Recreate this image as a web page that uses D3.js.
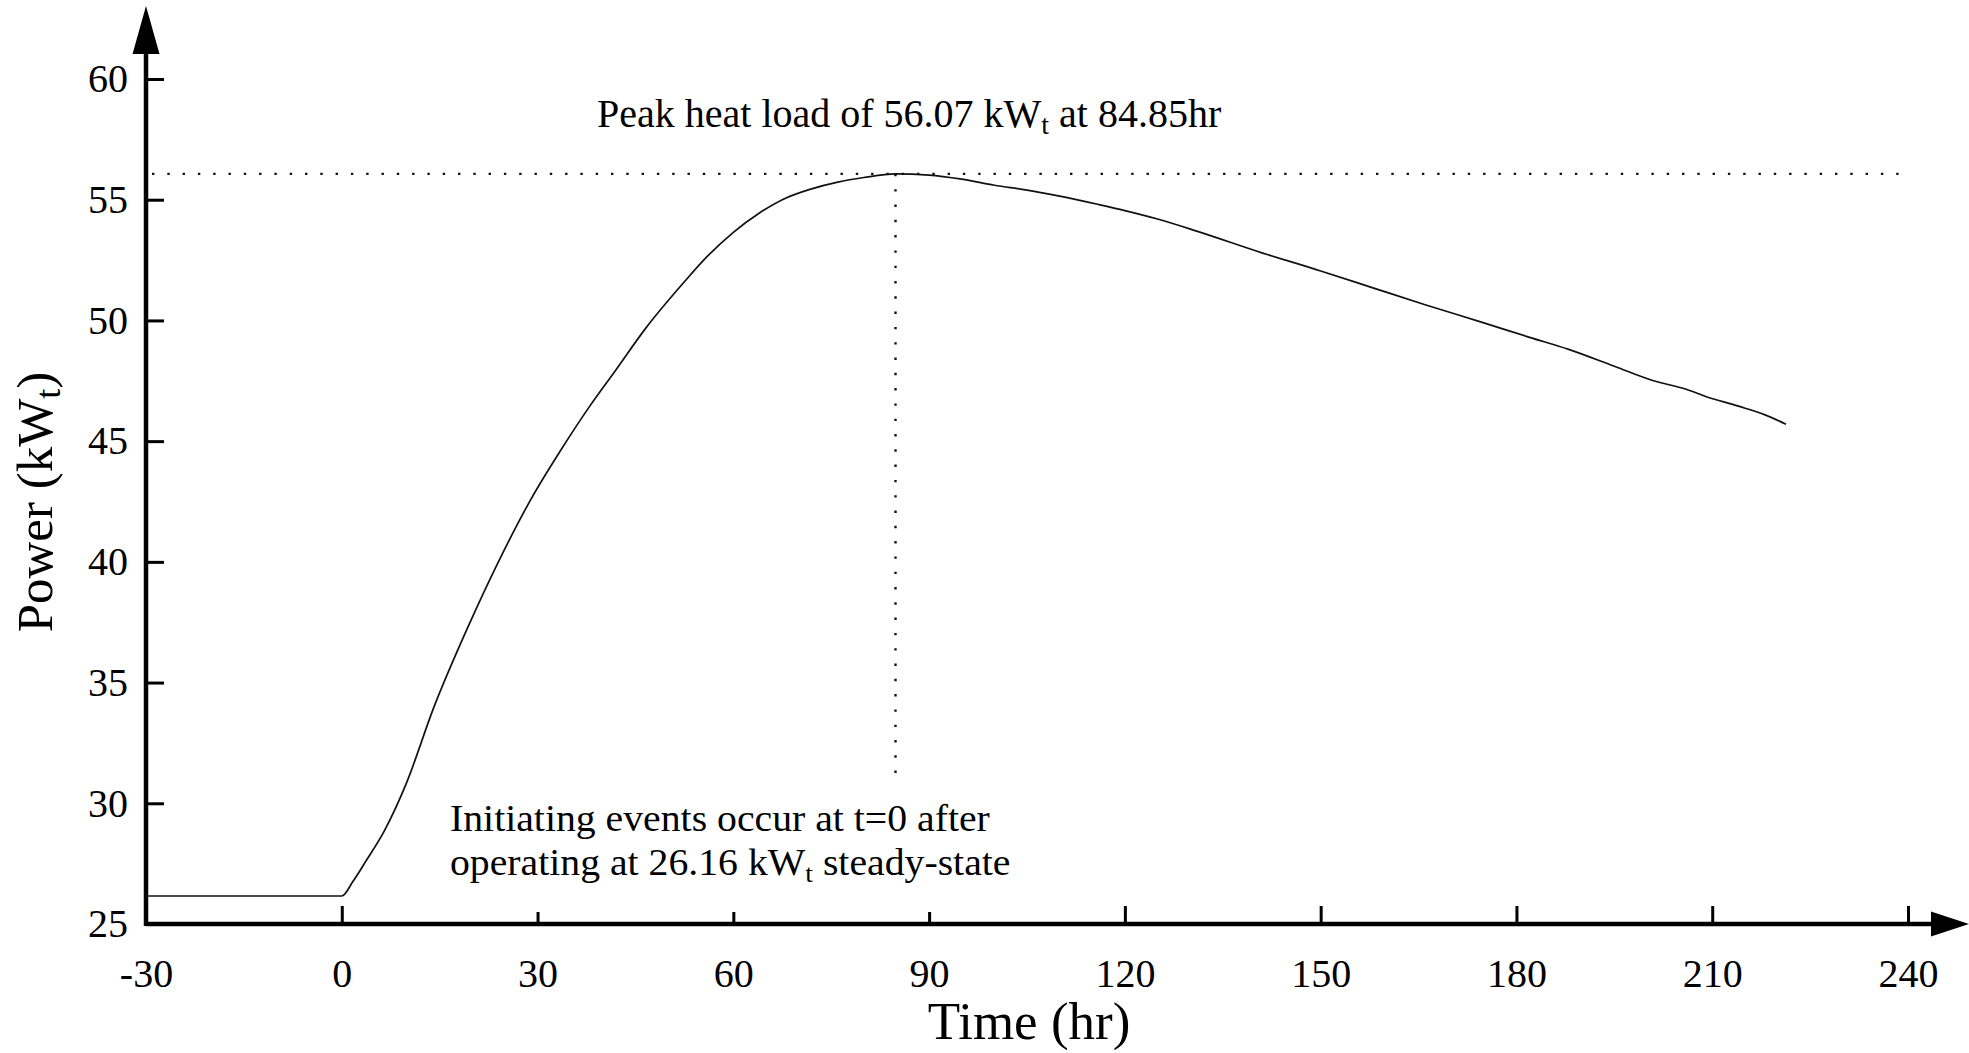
<!DOCTYPE html>
<html>
<head>
<meta charset="utf-8">
<script src="https://cdn.jsdelivr.net/npm/d3@7"></script>
<style>
  html, body { margin: 0; padding: 0; background: #fff; }
  svg { display: block; }
  text { font-family: "Liberation Serif", "Times New Roman", serif; fill: #000; }
</style>
</head>
<body>
<svg id="chart" width="1969" height="1053"></svg>
<script>
// Thermal power transient: steady state before t=0, rise to the peak, slow decay
const timeHr = [-30, 0, 1.7, 3.8, 6.5, 10, 14, 19.5, 24, 29, 33.5, 38, 42, 46.5, 52.5, 56, 60, 64, 67.5, 72, 76, 80, 84.85,
                90, 95, 100, 105, 110, 116, 120, 125, 131, 141, 150, 158, 166, 175, 182, 188, 195, 201, 206, 209, 214, 218, 221.3];
const powerKWt = [26.16, 26.16, 26.76, 27.65, 28.85, 30.9, 33.9, 37.4, 40.0, 42.6, 44.6, 46.45, 47.95, 49.65, 51.6, 52.65, 53.65, 54.45, 55.0, 55.45, 55.73, 55.92, 56.07,
                  56.02, 55.85, 55.6, 55.4, 55.15, 54.8, 54.55, 54.2, 53.7, 52.8, 52.05, 51.35, 50.65, 49.9, 49.3, 48.8, 48.1, 47.5, 47.15, 46.85, 46.45, 46.1, 45.7];

const xTicks = [-30, 0, 30, 60, 90, 120, 150, 180, 210, 240];
const yTicks = [25, 30, 35, 40, 45, 50, 55, 60];

const peakPower = 56.07;
const peakTime = 84.85;
const steadyPower = 26.16;

const svg = d3.select("#chart");

const x = d3.scaleLinear().domain([-30, 240]).range([146, 1908]);
const y = d3.scaleLinear().domain([25, 60]).range([924, 79]);

const data = timeHr.map((t, i) => ({ t, p: powerKWt[i] }));

// Reference lines through the peak
svg.append("line")
  .attr("x1", x(-30) + 6).attr("x2", x(239))
  .attr("y1", y(peakPower)).attr("y2", y(peakPower))
  .attr("stroke", "#111").attr("stroke-width", 2.4)
  .attr("stroke-dasharray", "2.4 12.9");
svg.append("line")
  .attr("x1", x(peakTime)).attr("x2", x(peakTime))
  .attr("y1", y(peakPower)).attr("y2", 776)
  .attr("stroke", "#111").attr("stroke-width", 2.4)
  .attr("stroke-dasharray", "2.4 12.9");

// Power curve
svg.append("path")
  .datum(data)
  .attr("fill", "none")
  .attr("stroke", "#111")
  .attr("stroke-width", 1.7)
  .attr("d", d3.line().x(d => x(d.t)).y(d => y(d.p)).curve(d3.curveMonotoneX));

// Axes with inward ticks
const fmt = d => String(d);
const xAxis = svg.append("g")
  .attr("transform", `translate(0,${y(25)})`)
  .call(d3.axisBottom(x).tickValues(xTicks).tickSize(-18).tickPadding(35).tickFormat(fmt));
const yAxis = svg.append("g")
  .attr("transform", `translate(${x(-30)},0)`)
  .call(d3.axisLeft(y).tickValues(yTicks).tickSize(-18).tickPadding(18).tickFormat(fmt));

[xAxis, yAxis].forEach(g => {
  g.attr("font-family", null).attr("font-size", null);
  g.select(".domain").remove();
  g.selectAll(".tick line").attr("stroke", "#000").attr("stroke-width", 3);
  g.selectAll(".tick text").attr("font-size", 40);
});
xAxis.selectAll(".tick").filter(d => d === -30).select("line").remove();
yAxis.selectAll(".tick").filter(d => d === 25).select("line").remove();

// Axis lines with arrowheads
svg.append("line")
  .attr("x1", x(-30)).attr("x2", 1935)
  .attr("y1", y(25)).attr("y2", y(25))
  .attr("stroke", "#000").attr("stroke-width", 4.5);
svg.append("line")
  .attr("x1", x(-30)).attr("x2", x(-30))
  .attr("y1", y(25) + 2).attr("y2", 50)
  .attr("stroke", "#000").attr("stroke-width", 4.5);
svg.append("path")
  .attr("d", `M1931,${y(25) - 12.5} L1969,${y(25)} L1931,${y(25) + 12.5} Z`)
  .attr("fill", "#000");
svg.append("path")
  .attr("d", `M${x(-30) - 13.5},54 L${x(-30)},6 L${x(-30) + 13.5},54 Z`)
  .attr("fill", "#000");

// Axis titles
svg.append("text")
  .attr("x", 1029).attr("y", 1039)
  .attr("text-anchor", "middle")
  .attr("font-size", 53)
  .text("Time (hr)");

const yTitle = svg.append("text")
  .attr("transform", "translate(52,502) rotate(-90)")
  .attr("text-anchor", "middle")
  .attr("font-size", 51);
yTitle.append("tspan").text("Power (kW");
yTitle.append("tspan").attr("font-size", 36).attr("baseline-shift", "-22%").text("t");
yTitle.append("tspan").text(")");

// Peak annotation
const peakLabel = svg.append("text")
  .attr("x", 597).attr("y", 127)
  .attr("font-size", 40);
peakLabel.append("tspan").text(`Peak heat load of ${peakPower.toFixed(2)} kW`);
peakLabel.append("tspan").attr("font-size", 28).attr("baseline-shift", "-25%").text("t");
peakLabel.append("tspan").text(` at ${peakTime.toFixed(2)}hr`);

// Initial-condition annotation on a white label box, two separate lines
svg.append("rect")
  .attr("x", 440).attr("y", 778).attr("width", 578).attr("height", 134)
  .attr("fill", "#fff");
const noteGroup = svg.append("g").attr("transform", "translate(450,0) scale(1.06,1)");
noteGroup.append("text")
  .attr("x", 0).attr("y", 831).attr("font-size", 37.5)
  .text("Initiating events occur at t=0 after");
const note2 = noteGroup.append("text")
  .attr("x", 0).attr("y", 875).attr("font-size", 37.5);
note2.append("tspan").text(`operating at ${steadyPower.toFixed(2)} kW`);
note2.append("tspan").attr("font-size", 26).attr("baseline-shift", "-25%").text("t");
note2.append("tspan").text(" steady-state");
</script>
</body>
</html>
